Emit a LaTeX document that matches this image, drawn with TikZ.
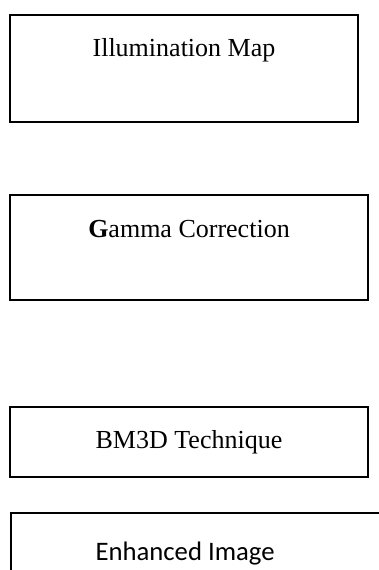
\documentclass[tikz,border=0pt]{standalone}
\usepackage{fontspec}
\setmainfont{Liberation Serif}
\newfontfamily\calibrifont{Carlito}
\usetikzlibrary{positioning}
\begin{document}
\begin{tikzpicture}[line width=1.2pt, box node/.style={rectangle,draw,inner sep=0pt}, text node/.style={font=\fontsize{14.8}{17}\selectfont,inner sep=0pt}]
\useasboundingbox (0,0) rectangle (7.56,-11.4);
\node [box node,minimum width=6.96cm,minimum height=2.14cm] (b1) at (3.68,-1.37) {};
\node [box node,minimum width=7.16cm,minimum height=2.1cm] (b2) at (3.78,-4.95) {};
\node [box node,minimum width=7.16cm,minimum height=1.4cm] (b3) at (3.78,-8.84) {};
\node [box node,minimum width=8cm,minimum height=2cm,anchor=north west] (b4) at (0.2,-10.24) {};
\node [text node,below=0.46cm of b1.north] (t1) {Illumination Map};
\node [text node,below=0.51cm of b2.north] (t2) {\textbf{G}amma Correction};
\node [text node] (t3) at (b3) {BM3D Technique};
\node [text node,below=0.57cm of b4.north,xshift=-0.52cm,font=\fontsize{15.2}{17}\selectfont] (t4) {\calibrifont Enhanced Image};
\end{tikzpicture}
\end{document}
